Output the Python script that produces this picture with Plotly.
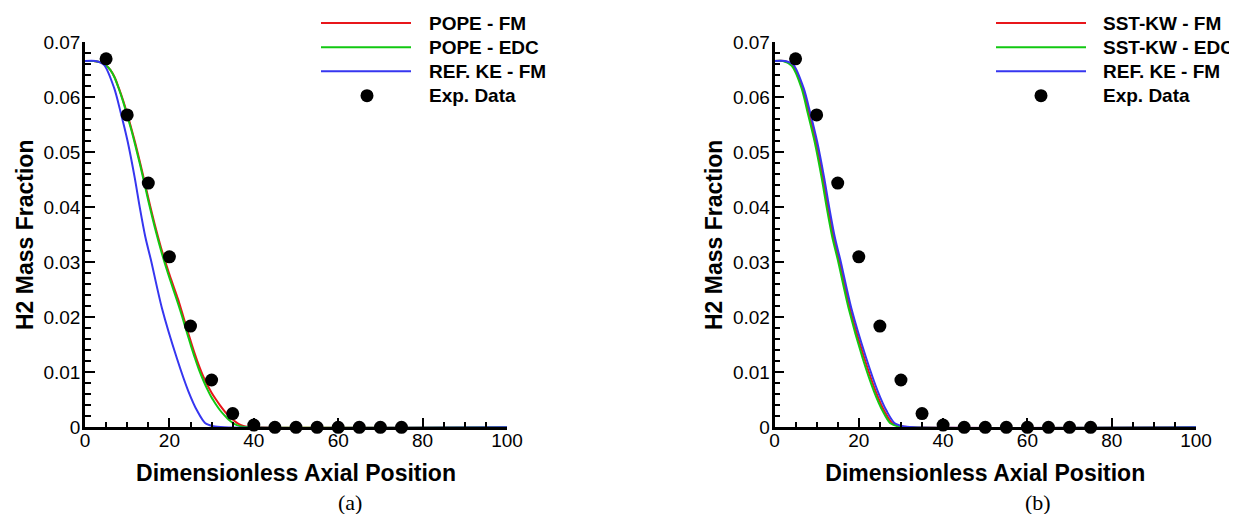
import plotly.graph_objects as go

W, H = 1237, 514

# ---------------- data ----------------
exp_x = [5, 10, 15, 20, 25, 30, 35, 40, 45, 50, 55, 60, 65, 70, 75]
exp_y = [0.0670, 0.0568, 0.0444, 0.0310, 0.0184, 0.0086, 0.0025, 0.0004,
         0.0, 0.0, 0.0, 0.0, 0.0, 0.0, 0.0]

pope_fm_x = [0, 2, 4, 5, 6, 7, 8, 9, 10, 11, 12, 13, 14, 15, 16, 17, 18, 19, 20,
             21, 22, 23, 24, 25, 26, 27, 28, 29, 30, 31, 32, 33, 34, 35, 36, 37, 38, 40, 100]
pope_fm_y = [0.0666, 0.0666, 0.0663, 0.0658, 0.0650, 0.0637, 0.0617, 0.0595, 0.0570,
             0.0543, 0.0514, 0.0483, 0.0450, 0.0417, 0.0385, 0.0355, 0.0327, 0.0302,
             0.0278, 0.0256, 0.0234, 0.0209, 0.0183, 0.0158, 0.0134, 0.0112, 0.0093,
             0.0077, 0.0063, 0.0051, 0.0040, 0.0030, 0.0021, 0.0014, 0.0008, 0.0004,
             0.00015, 0.0, 0.0]

pope_edc_x = [0, 2, 4, 5, 6, 7, 8, 9, 10, 11, 12, 13, 14, 15, 16, 17, 18, 19, 20,
              21, 22, 23, 24, 25, 26, 27, 28, 29, 30, 31, 32, 33, 34, 35, 36, 37, 39, 100]
pope_edc_y = [0.0666, 0.0666, 0.0663, 0.0658, 0.0650, 0.0636, 0.0616, 0.0593, 0.0567,
              0.0540, 0.0510, 0.0479, 0.0446, 0.0412, 0.0380, 0.0350, 0.0322, 0.0296,
              0.0272, 0.0249, 0.0226, 0.0202, 0.0176, 0.0151, 0.0127, 0.0105, 0.0086,
              0.0069, 0.0054, 0.0042, 0.0031, 0.0022, 0.0014, 0.0008, 0.0004, 0.00015,
              0.0, 0.0]

ref_ke_x = [0, 2.5, 4.5, 6.9, 8.5, 10.1, 11.8, 13.0, 14.3, 15.6, 18.25, 21.75,
            24.5, 26.65, 28.45, 30.4, 33, 100]
ref_ke_y = [0.0666, 0.0666, 0.0659, 0.0617, 0.0571, 0.0520, 0.0453, 0.0399, 0.0346,
            0.0305, 0.0216, 0.0126, 0.00655, 0.0029, 0.0008, 0.0002, 0.0, 0.0]

sst_fm_x = [0, 2.3, 4.3, 6.6, 8.2, 9.8, 11.5, 12.7, 14.0, 15.3, 17.9, 21.3,
            24.0, 26.1, 27.9, 29.8, 32.5, 100]
sst_fm_y = [0.0666, 0.0666, 0.0658, 0.0617, 0.0571, 0.0520, 0.0453, 0.0399, 0.0346,
            0.0305, 0.0216, 0.0126, 0.00655, 0.0029, 0.0008, 0.0002, 0.0, 0.0]

sst_edc_x = [0, 2.0, 4.1, 6.4, 7.9, 9.5, 11.2, 12.4, 13.7, 15.0, 17.6, 20.9,
             23.6, 25.7, 27.4, 29.2, 31.5, 100]
sst_edc_y = [0.0666, 0.0666, 0.0657, 0.0617, 0.0571, 0.0520, 0.0453, 0.0399, 0.0346,
             0.0305, 0.0216, 0.0126, 0.00655, 0.0029, 0.0008, 0.0002, 0.0, 0.0]

left_names = ["POPE - FM", "POPE - EDC", "REF. KE - FM", "Exp. Data"]
right_names = ["SST-KW - FM", "SST-KW - EDC", "REF. KE - FM", "Exp. Data"]
panel_labels = ["(a)", "(b)"]

x_ticks = [0, 20, 40, 60, 80, 100]
y_ticks = [0, 0.01, 0.02, 0.03, 0.04, 0.05, 0.06, 0.07]
y_ticktext = ["0", "0.01", "0.02", "0.03", "0.04", "0.05", "0.06", "0.07"]

x_title = "Dimensionless Axial Position"
y_title = "H2 Mass Fraction"

# ---------------- style ----------------
RED = "#e8161b"
GREEN = "#12c812"
BLUE = "#3636f0"
line_colors = [RED, GREEN, BLUE]
SANS = "Liberation Sans, Arial, sans-serif"
SERIF = "Liberation Serif, Times New Roman, serif"


def px(xp):
    return xp / W


def py(yp):
    return 1 - yp / H


fig = go.Figure()

panels = [
    dict(xa="x", ya="y",
         series=[(pope_fm_x, pope_fm_y), (pope_edc_x, pope_edc_y), (ref_ke_x, ref_ke_y)],
         names=left_names),
    dict(xa="x2", ya="y2",
         series=[(sst_fm_x, sst_fm_y), (sst_edc_x, sst_edc_y), (ref_ke_x, ref_ke_y)],
         names=right_names),
]

for p in panels:
    for (xs, ys), c, n in zip(p["series"], line_colors, p["names"]):
        fig.add_trace(go.Scatter(x=xs, y=ys, mode="lines", name=n,
                                 line=dict(color=c, width=2, shape="spline", smoothing=0.8),
                                 xaxis=p["xa"], yaxis=p["ya"], showlegend=False,
                                 cliponaxis=True))
    fig.add_trace(go.Scatter(x=exp_x, y=exp_y, mode="markers", name=p["names"][3],
                             marker=dict(color="black", size=13),
                             xaxis=p["xa"], yaxis=p["ya"], showlegend=False,
                             cliponaxis=False))

axis_common = dict(showgrid=False, zeroline=False, showline=True, linecolor="black",
                   linewidth=2.5, ticks="inside", ticklen=10, tickwidth=2,
                   tickcolor="black", mirror=False, automargin=False,
                   tickfont=dict(family=SANS, size=19, color="black"))

xdom = [(77 / W, 499 / W), (766.5 / W, 1188 / W)]
ydom = (py(419.3), py(34.3))

for i, (xk, yk) in enumerate([("xaxis", "yaxis"), ("xaxis2", "yaxis2")]):
    anchor_y = "y" if i == 0 else "y2"
    anchor_x = "x" if i == 0 else "x2"
    fig.layout[xk] = dict(axis_common, domain=list(xdom[i]), anchor=anchor_y,
                          range=[0, 100], tickvals=x_ticks, ticklabelstandoff=-6,
                          minor=dict(ticks="inside", ticklen=6, tickwidth=1.5,
                                     tickcolor="black", dtick=5),
                          title=dict(text=x_title, standoff=16,
                                     font=dict(family=SANS, size=23, color="black",
                                               weight="bold")))
    fig.layout[yk] = dict(axis_common, domain=list(ydom), anchor=anchor_x,
                          range=[0, 0.07], tickvals=y_ticks, ticktext=y_ticktext,
                          ticklabelstandoff=-2,
                          minor=dict(ticks="inside", ticklen=6, tickwidth=1.5,
                                     tickcolor="black", dtick=0.002),
                          title=dict(text=y_title, standoff=4,
                                     font=dict(family=SANS, size=23, color="black",
                                               weight="bold")))

# ---------------- manual legends ----------------
legend_pos = [
    dict(x0=313, x1=403, tx=419, mx=359),
    dict(x0=988, x1=1078, tx=1093, mx=1033),
]
rows = [15, 39.3, 63.3, 87.7]
shapes = []
annotations = []
for lp, p in zip(legend_pos, panels):
    for k in range(3):
        shapes.append(dict(type="line", xref="paper", yref="paper",
                           x0=px(lp["x0"]), x1=px(lp["x1"]),
                           y0=py(rows[k]), y1=py(rows[k]),
                           line=dict(color=line_colors[k], width=2)))
    shapes.append(dict(type="circle", xref="paper", yref="paper",
                       xsizemode="pixel", ysizemode="pixel",
                       xanchor=px(lp["mx"]), yanchor=py(rows[3]),
                       x0=-6.5, x1=6.5, y0=-6.5, y1=6.5,
                       fillcolor="black", line=dict(color="black", width=0)))
    for k in range(4):
        annotations.append(dict(xref="paper", yref="paper", x=px(lp["tx"]), y=py(rows[k]),
                                text=p["names"][k], showarrow=False,
                                xanchor="left", yanchor="middle",
                                font=dict(family=SANS, size=19, color="black",
                                          weight="bold")))

for lab, cx in zip(panel_labels, [341.7, 1029.8]):
    annotations.append(dict(xref="paper", yref="paper", x=px(cx), y=py(494),
                            text=lab, showarrow=False, xanchor="center",
                            yanchor="middle",
                            font=dict(family=SERIF, size=22, color="black")))

fig.update_layout(width=W, height=H, margin=dict(l=0, r=0, t=0, b=0),
                  paper_bgcolor="white", plot_bgcolor="white",
                  shapes=shapes, annotations=annotations, showlegend=False)

fig.write_html("out.html")
